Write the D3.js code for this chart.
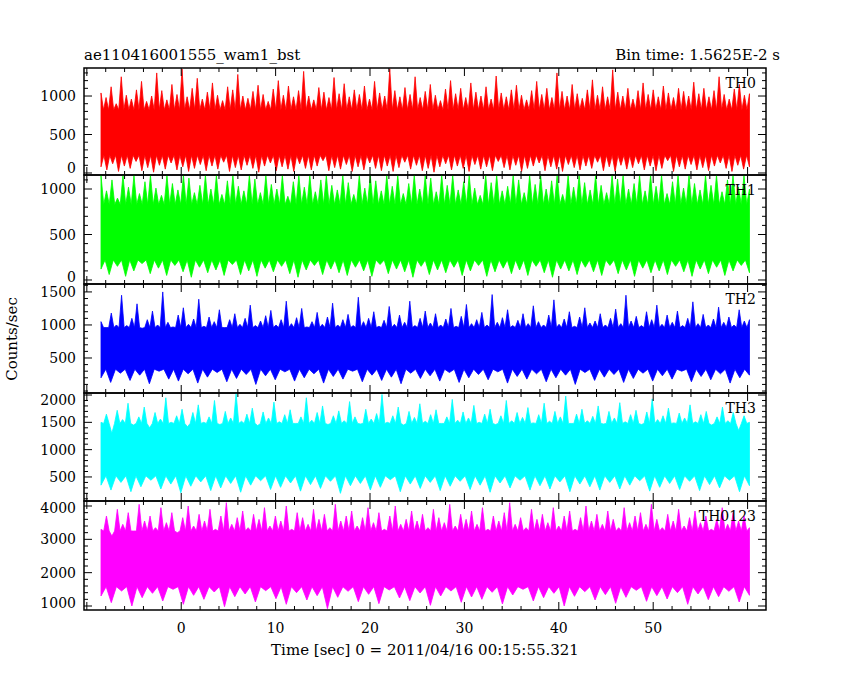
<!DOCTYPE html>
<html><head><meta charset="utf-8">
<script src="https://cdn.jsdelivr.net/npm/d3@7"></script>
<style>body{margin:0;background:#fff}</style>
</head><body><div id="viz"></div>
<script>
// time range covered by the samples (sec)
var tStart = -8.5, tEnd = 60.2;

var names = ["TH0","TH1","TH2","TH3","TH0123"];
var colors = ["#ff0000","#00ff00","#0000ff","#00ffff","#ff00ff"];

// spike tops / bottoms (counts/sec)
var th0Hi = [1040,980,1120,900,1250,1010,960,1080,1190,930,1000,1300,1070,950,1150,1020,1350,990,1100,1230,960,1050,1170,1010,940,1120,1080,1280,1000,970,1060,1140,1020,930,1090,1200,1010,1130,990,1070,1320,1000,950,1110,1050,980,1240,1030,1160,990,1080,1020,1130,960,1190,1040,1000,1350,1070,990,1110,1020,1250,980,1060,1150,1010,940,1090,1200,1030,1100,980,1170,1050,1000,1120,960,1260,1040,990,1080,1140,1010,950,1070,1190,1020,1100,980,1300,1060,1000,1150,1030,970,1080,1210,1010,1120,990,1340,1050,1000,1100,960,1070,1170,1020,1080,990,1130,1040,980,1100,1060,1000,1180,1030,1100,990,1070,1250,1020,960,1090,1150,1010,1030];
var th0Lo = [80,40,120,20,90,60,150,30,70,10,100,50,130,40,80,20,60,110,30,90,50,140,20,70,40,100,60,10,90,130,30,80,50,20,120,60,40,90,160,30,70,50,110,20,80,40,130,60,30,90,20,70,140,50,100,30,60,10,80,120,40,90,60,20,110,50,80,30,150,70,40,100,20,60,90,130,30,80,50,20,110,70,40,90,60,140,30,80,20,100,50,70,120,40,90,30,60,160,20,80,50,110,40,70,30,90,130,60,20,100,50,80];
var th1Hi = [1150,980,1100,900,1150,1020,1150,950,1080,1150,1010,930,1150,1060,990,1150,1120,960,1040,1150,1000,1150,940,1090,1150,1030,980,1150,1110,960,1150,1050,1000,1150,920,1080,1150,1020,1150,970,1100,1150,1040,990,1150,1070,940,1150,1010,1150,1090,980,1150,1030,1150,950,1060,1150,1000,1150,1120,970,1150,1040,1150,990,1080,1150,1010,930,1150,1070,1150,980,1030,1150,1100,960,1150,1050,1150,1000,1090,1150,940,1150,1020,1150,1070,990,1150,1040,960,1150,1110,1150,1000,1060,1150,980,1150,1030,1150,950,1080,1150,1010,1150,1060,990,1150,1040,1150,970,1100,1150,1020,1150,1000];
var th1Lo = [120,60,150,40,100,180,70,130,50,160,90,30,140,80,110,50,170,60,100,40,130,90,150,70,30,110,160,60,120,80,50,140,100,40,170,70,120,90,30,150,60,110,80,140,50,100,160,40,90,130,70,110,50,150,80,30,120,100,60,140,90,50,160,70,110,40,130,80,100,60,150,90,40,120,70,140,50,100,160,80];
var th2Hi = [1050,960,1180,1000,1450,990,1100,1320,950,1080,1210,1000,1500,1040,970,1150,1260,1010,1090,1390,980,1120,1050,1230,960,1080,1170,1010,1100,1300,990,1060,1140,1220,1000,1080,1360,1020,1110,1250,970,1050,1190,1010,1120,1330,1000,1080,1160,990,1420,1050,1100,1200,980,1070,1280,1010,1150,1040,1360,990,1100,1210,1030,1170,1000,1090,1250,980,1130,1310,1020,1080,1190,1000,1460,1040,1110,1230,990,1070,1170,1020,1290,1050,1000,1150,1380,1010,1090,1200,980,1120,1260,1030,1060,1170,1000,1100,1240,1020,1450,1060,1130,990,1200,1080,1300,1010,1150,1040,1210,990,1100,1350,1020,1160,1000,1090,1270,1040,1120,1000,1230,1060,1080];
var th2Lo = [200,130,270,160,240,110,300,180,150,260,120,210,280,140,190,250,100,230,170,290,150,200,260,120,220,180,300,140,240,160,210,110,270,190,230,150,280,130,200,250,170,290,120,220,180,260,140,200,240,100,280,160,210,250,130,190,270,150,230,180,300,140,220,170,260,120,200,240];
var th3Hi = [1500,1650,1300,1720,1550,1850,1450,1600,1780,1400,1680,1560,1950,1500,1620,1740,1420,1680,1820,1500,1600,1900,1460,1700,1580,2030,1520,1650,1760,1440,1690,1580,1870,1510,1640,1730,1480,1600,1950,1540,1680,1800,1460,1620,1710,1530,1880,1600,1470,1740,1560,1660,2010,1500,1620,1780,1450,1700,1590,1840,1520,1640,1730,1480,1600,1920,1540,1690,1580,1810,1500,1650,1740,1460,1620,1900,1530,1680,1590,1770,1490,1640,1850,1520,1700,1600,1980,1480,1650,1740,1530,1610,1800,1470,1700,1580,1860,1510,1640,1720,1460,1690,1930,1550,1620,1760,1490,1670,1580,1820,1510,1640,1700,1450,1600,1780,1530,1680,1350,1620,1500];
var th3Lo = [350,260,400,230,320,440,280,370,210,330,410,250,300,380,220,350,430,270,310,390,240,360,290,420,200,340,380,260,310,450,230,370,290,400,250,330,420,270,350,220,390,300,440,260,340,280,410,230,370,320,260,400,280,350,430,240,310,380,270,420,250,360,300,440,230,340];
var thAllHi = [3300,3700,3100,3900,3450,3800,3250,4050,3550,3700,3350,3950,3500,3800,3200,3650,4000,3400,3750,3550,3900,3300,3700,4100,3450,3650,3850,3350,3750,3600,3950,3400,3700,3550,4000,3300,3800,3650,3450,3900,3600,3750,3350,4050,3550,3700,3850,3400,3650,3950,3500,3800,3300,3700,4000,3450,3600,3850,3550,3750,3350,3900,3650,3500,4050,3400,3750,3600,3850,3450,3950,3300,3700,3550,3800,4100,3450,3650,3350,3900,3600,3750,3500,3950,3400,3700,3850,3300,3650,4000,3550,3750,3450,3850,3600,3350,3950,3500,3700,3800,3450,4050,3600,3350,3750,3550,3900,3400,3650,3850,3500,3700,3300,3600,3950,3450,3800,3550,3700,3350];
var thAllLo = [1300,1100,1450,1000,1250,1380,1150,1500,1050,1320,1200,1420,980,1280,1360,1120,1460,1220,1050,1400,1180,1310,920,1260,1440,1130,1350,1070,1480,1240,1160,1390,1020,1300,1450,1110,1270,1200,1410,1060,1330,1500,1150,1250,1380,1000,1290,1430,1180,1340,1080,1260,1470,1140,1310,1210,1400,1050,1360,1190,1280,1440,1120,1320];

var hiData = [th0Hi, th1Hi, th2Hi, th3Hi, thAllHi];
var loData = [th0Lo, th1Lo, th2Lo, th3Lo, thAllLo];
var coreTop = [820, 830, 960, 1480, 3250];
var coreBot = [230, 220, 330, 520, 1580];

var domains = [[-26,1364],[-44,1154],[-30,1620],[60,2037],[880,4150]];
var majors = [[0,500,1000],[0,500,1000],[500,1000,1500],[500,1000,1500,2000],[1000,2000,3000,4000]];
var minorStep = [100,100,100,100,200];
var tops = [68,175,284,393,501,610];

var left = 84, right = 766;
var width = 850, height = 680;

var canvas = d3.select("#viz").append("svg")
	.attr("width",width).attr("height",height)
	.style("font-family","DejaVu Serif");

var xScale = d3.scaleLinear().domain([-10.3,61.95]).range([left,right]);

names.forEach(function(name,p){
	var y0 = tops[p], y1 = tops[p+1];
	var yScale = d3.scaleLinear().domain(domains[p]).range([y1,y0]);
	var g = canvas.append("g");
	var clipId = "clip"+p;
	g.append("clipPath").attr("id",clipId).append("rect")
		.attr("x",left).attr("y",y0).attr("width",right-left).attr("height",y1-y0);

	var hi = hiData[p], lo = loData[p];
	var pts = [];
	var dxh = (tEnd-tStart)/(hi.length-1);
	hi.forEach(function(v,i){
		var t = tStart + i*dxh;
		pts.push([xScale(t), yScale(v)]);
		if(i < hi.length-1) pts.push([xScale(t+dxh/2), yScale(coreTop[p])]);
	});
	var dxl = (tEnd-tStart)/(lo.length-1);
	var lower = [];
	lo.forEach(function(v,i){
		var t = tStart + i*dxl;
		lower.push([xScale(t), yScale(v)]);
		if(i < lo.length-1) lower.push([xScale(t+dxl/2), yScale(coreBot[p])]);
	});
	pts = pts.concat(lower.reverse());

	g.append("path")
		.attr("clip-path","url(#"+clipId+")")
		.attr("d", d3.line()(pts) + "Z")
		.attr("fill",colors[p]).attr("stroke",colors[p]).attr("stroke-width",0.8);

	// y ticks both sides, inward
	var minors = d3.range(Math.ceil(domains[p][0]/minorStep[p])*minorStep[p], domains[p][1], minorStep[p]);
	minors.forEach(function(v){
		var y = yScale(v);
		var isMajor = majors[p].indexOf(v) >= 0;
		var len = isMajor ? 8 : 4;
		g.append("line").attr("x1",left).attr("x2",left+len).attr("y1",y).attr("y2",y).attr("stroke","#000");
		g.append("line").attr("x1",right).attr("x2",right-len).attr("y1",y).attr("y2",y).attr("stroke","#000");
	});
	majors[p].forEach(function(v){
		var y = yScale(v)+5;
		if(y > y1 - 4) y = y1 - 2;
		if(y < y0 + 12) y = y0 + 12;
		g.append("text").attr("x",left-8).attr("y",y)
			.attr("text-anchor","end").attr("font-size",14).text(v);
	});
	// x ticks on each panel edge
	d3.range(-10,62,2).forEach(function(t){
		var x = xScale(t);
		var len = (t%10===0) ? 8 : 4;
		g.append("line").attr("x1",x).attr("x2",x).attr("y1",y1).attr("y2",y1-len).attr("stroke","#000");
		g.append("line").attr("x1",x).attr("x2",x).attr("y1",y0).attr("y2",y0+len).attr("stroke","#000");
	});
	g.append("rect").attr("x",left).attr("y",y0).attr("width",right-left).attr("height",y1-y0)
		.attr("fill","none").attr("stroke","#000").attr("stroke-width",1.5);
	g.append("text").attr("x",right-10).attr("y",y0+20).attr("text-anchor","end")
		.attr("font-size",14).text(name);
});

[0,10,20,30,40,50].forEach(function(t){
	canvas.append("text").attr("x",xScale(t)).attr("y",633).attr("text-anchor","middle")
		.attr("font-size",14).text(t);
});

canvas.append("text").attr("x",84).attr("y",60).attr("font-size",15).text("ae110416001555_wam1_bst");
canvas.append("text").attr("x",780).attr("y",60).attr("text-anchor","end").attr("font-size",15).text("Bin time: 1.5625E-2 s");
canvas.append("text").attr("x",425).attr("y",655).attr("text-anchor","middle").attr("font-size",15)
	.text("Time [sec] 0 = 2011/04/16 00:15:55.321");
canvas.append("text").attr("transform","translate(17,339) rotate(-90)").attr("text-anchor","middle")
	.attr("font-size",15).text("Counts/sec");
</script>
</body></html>
